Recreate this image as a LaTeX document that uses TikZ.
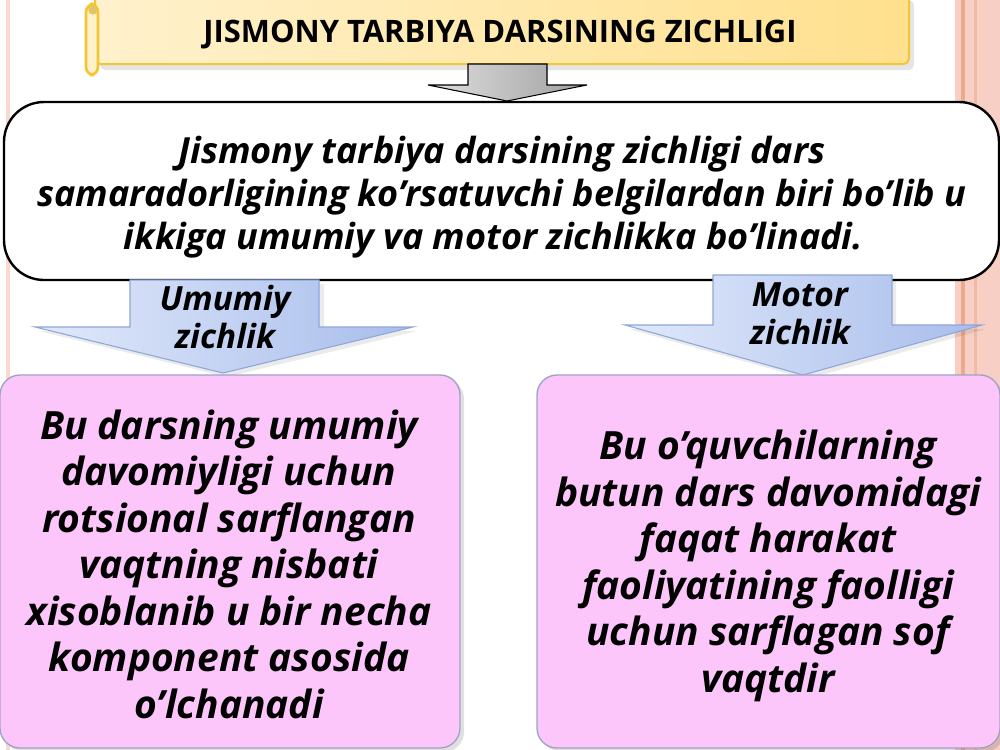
\documentclass[tikz,border=0pt]{standalone}
\usepackage{fontspec}
\setmainfont{Open Sans}
\definecolor{bannerA}{HTML}{FFF1CC}
\definecolor{bannerB}{HTML}{FFE08E}
\definecolor{bannerLine}{HTML}{F2C636}
\definecolor{blueA}{HTML}{E0E9FA}
\definecolor{blueB}{HTML}{A9BDEC}
\definecolor{blueLine}{HTML}{8FA6DA}
\definecolor{pinkFill}{HTML}{FDC6FB}
\definecolor{pinkLine}{HTML}{9EA3C4}
\definecolor{edgeA}{HTML}{F7CFC4}
\definecolor{edgeB}{HTML}{EFA88F}
\tikzset{
  boxtext/.style={align=center, text=black, inner sep=0pt},
  mainfont/.style={font=\fontsize{27}{32.3}\selectfont\bfseries\itshape},
  pinkfont/.style={font=\fontsize{29.2}{34.9}\selectfont\bfseries\itshape},
  labelfont/.style={font=\fontsize{25}{28.5}\selectfont\bfseries\itshape},
  blockarrow/.style={left color=blueA, right color=blueB, draw=blueLine, line width=0.8},
  pinkbox/.style={fill=pinkFill, draw=pinkLine, line width=1, rounded corners=15},
  softshadow/.style={fill=black, opacity=0.12, rounded corners=15}
}
\begin{document}
\begin{tikzpicture}[x=0.75pt,y=-0.75pt]
\useasboundingbox (0,0) rectangle (1000,750);
\fill[white] (0,0) rectangle (1000,750);
% side decorations
\fill[edgeA!80] (6,0) rectangle (10,750);
\fill[edgeA] (955,0) rectangle (1000,750);
\fill[edgeB] (961,0) rectangle (965,750);
\fill[edgeB!80] (974,0) rectangle (977,750);
% banner
\fill[black,opacity=0.10,rounded corners=4] (100,0) rectangle (914,70);
\shade[left color=bannerA, right color=bannerB, draw=bannerLine, line width=1.5, rounded corners=4] (95,-6) rectangle (909,64);
\draw[fill=bannerA, draw=bannerLine, line width=2, rounded corners=6] (86,4) rectangle (98,75);
\draw[fill=bannerB!70!gray, draw=bannerLine, line width=1] (93,10) circle (4);
\node[boxtext, font=\fontsize{23.2}{26}\selectfont\bfseries] (title) at (500,35) {JISMONY TARBIYA DARSINING ZICHLIGI};
% gray arrow
\shade[left color=gray!25, right color=gray!75, draw=black, line width=0.8]
  (468,64) -- (547,64) -- (547,85) -- (587,85) -- (507,101) -- (428,85) -- (468,85) -- cycle;
% main box
\draw[fill=white, draw=black, line width=1.8, rounded corners=30] (4,102) rectangle (999,280);
\node[boxtext, mainfont] (main) at (502,197) {Jismony tarbiya darsining zichligi dars\\samaradorligining ko’rsatuvchi belgilardan biri bo’lib u\\ikkiga umumiy va motor zichlikka bo’linadi.\hspace*{13pt}\mbox{}};
% left block arrow
\fill[black,opacity=0.08] (134,284) -- (324,284) -- (324,331) -- (417,331) -- (227,377) -- (39,331) -- (134,331) -- cycle;
\shade[blockarrow] (130,280) -- (319,280) -- (319,327) -- (413,327) -- (223,373) -- (35,327) -- (130,327) -- cycle;
\node[boxtext, labelfont] (lblL) at (225,317) {Umumiy\\zichlik};
% right block arrow
\fill[black,opacity=0.08] (717,279) -- (896,279) -- (896,329) -- (986,329) -- (807,379) -- (629,329) -- (717,329) -- cycle;
\shade[blockarrow] (713,275) -- (892,275) -- (892,325) -- (982,325) -- (803,375) -- (625,325) -- (713,325) -- cycle;
\node[boxtext, labelfont] (lblR) at (800,314) {Motor\\zichlik};
% pink boxes
\fill[softshadow] (4,379) rectangle (464,752);
\draw[pinkbox] (0,375) rectangle (460,748);
\fill[softshadow] (541,379) rectangle (1004,752);
\draw[pinkbox] (537,375) rectangle (1000,748);
\node[boxtext, pinkfont] (leftText) at (229,564) {Bu darsning umumiy\\davomiyligi uchun\\rotsional sarflangan\\vaqtning nisbati\\xisoblanib u bir necha\\komponent asosida\\o’lchanadi};
\node[boxtext, pinkfont] (rightText) at (768,566) {Bu o’quvchilarning\\butun dars davomidagi\\faqat harakat\\faoliyatining faolligi\\uchun sarflagan sof\\vaqtdir};
\end{tikzpicture}
\end{document}
